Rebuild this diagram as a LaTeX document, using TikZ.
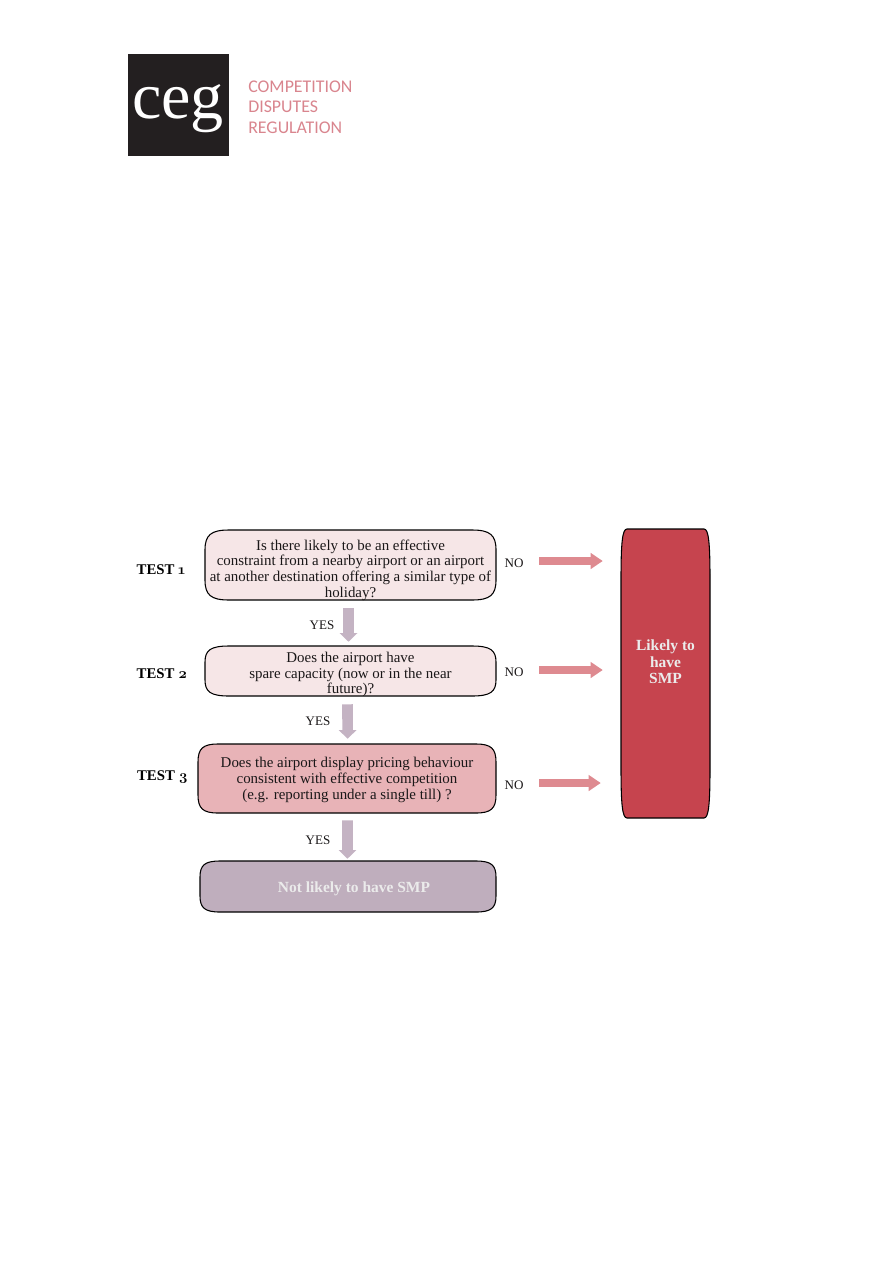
\documentclass[tikz,border=0pt]{standalone}
\usepackage{fontspec}
\setmainfont{Liberation Serif}
\newfontfamily\lmold[Numbers=OldStyle]{Latin Modern Roman}
\newfontfamily\logosans{Carlito}
\usetikzlibrary{arrows.meta}
\definecolor{inkc}{HTML}{1A1718}
\definecolor{logoblack}{HTML}{231F20}
\definecolor{logopink}{HTML}{D9858E}
\definecolor{lightpink}{HTML}{F6E6E7}
\definecolor{midpink}{HTML}{E8B3B7}
\definecolor{mauve}{HTML}{BFAEBD}
\definecolor{smpred}{HTML}{C6444E}
\definecolor{noarrowc}{HTML}{DE8A90}
\definecolor{yesarrowc}{HTML}{C4B3C3}
\newcommand{\sqbox}[7]{%
  \draw[boxline,fill=#7] (#1,#4-#6) -- (#1,#2+#6)
    .. controls (#1,#2+0.25*#6) and (#1+0.25*#5,#2) .. (#1+#5,#2)
    -- (#3-#5,#2)
    .. controls (#3-0.25*#5,#2) and (#3,#2+0.25*#6) .. (#3,#2+#6)
    -- (#3,#4-#6)
    .. controls (#3,#4-0.25*#6) and (#3-0.25*#5,#4) .. (#3-#5,#4)
    -- (#1+#5,#4)
    .. controls (#1+0.25*#5,#4) and (#1,#4-0.25*#6) .. (#1,#4-#6) -- cycle;}
\newcommand{\dn}[1]{\rule{0pt}{#1}}
\tikzset{
  x=0.75pt,y=-0.75pt,
  boxline/.style={draw=black,line width=0.8pt},
  boxtext/.style={inner sep=0pt,align=center,text=inkc,font=\fontsize{11.2}{11.8}\selectfont},
  whitetext/.style={inner sep=0pt,align=center,text=white!92!black,font=\fontsize{11.6}{12.2}\selectfont\bfseries},
  testlabel/.style={inner sep=0pt,text=black,font=\fontsize{11.1}{12}\selectfont\bfseries},
  answer/.style={inner sep=0pt,text=inkc,font=\fontsize{9.8}{12}\selectfont},
  slogan/.style={inner sep=0pt,anchor=west,text=logopink,font=\logosans\fontsize{13.4}{15}\selectfont},
  yesarrow/.style={draw=yesarrowc,line width=8pt,-{Triangle[length=6.5pt,width=13pt]}},
  noarrow/.style={draw=noarrowc,line width=6pt,-{Triangle[length=9pt,width=11.5pt]}},
}
\begin{document}
\begin{tikzpicture}
\useasboundingbox (0,0) rectangle (893,1263);
% logo
\fill[logoblack] (128,54) rectangle (229,156);
\node[inner sep=0pt,anchor=base,text=white,font=\fontsize{49.6}{50}\selectfont] (ceg) at (178,118) {ceg};
\node[slogan] (s1) at (248,86.5) {COMPETITION};
\node[slogan] (s2) at (248,106.5) {DISPUTES};
\node[slogan] (s3) at (248,127.5) {REGULATION};
% boxes
\sqbox{205}{530}{496}{600}{24}{20}{lightpink}
\sqbox{205}{646}{496}{696}{24}{16}{lightpink}
\sqbox{198}{744}{496}{813}{20}{18}{midpink}
\sqbox{200}{861}{496}{912}{20}{16}{mauve}
\sqbox{621}{529}{710}{818}{6}{50}{smpred}
\node[boxtext,minimum width=218.25pt,minimum height=52.5pt] (t1) at (350.5,565)
  {\dn{15.5pt}Is there likely to be an effective\\constraint from a nearby airport or an airport\\at another destination offering a similar type of\\holiday?};
\node[boxtext,minimum width=218.25pt,minimum height=37.5pt] (t2) at (350.5,671)
  {\dn{13pt}Does the airport have\\spare capacity (now or in the near\\future)?};
\node[boxtext,minimum width=223.5pt,minimum height=51.75pt] (t3) at (347,778.5)
  {\dn{10pt}Does the airport display pricing behaviour\\consistent with effective competition\\(e.g. reporting under a single till) ?};
\node[whitetext,minimum width=222pt,minimum height=38.25pt] (t4) at (348,886.5)
  {\hspace*{9pt}\dn{11.5pt}Not likely to have SMP};
\node[whitetext,minimum width=66.75pt,minimum height=216.75pt] (smp) at (665.5,660.5)
  {\dn{10pt}Likely to\\have\\SMP};
% labels
\node[testlabel] (l1) at (161,569.5) {TEST {\lmold 1}};
\node[testlabel] (l2) at (162,673.5) {TEST {\lmold 2}};
\node[testlabel] (l3) at (162.5,777.5) {TEST {\lmold 3}};
\node[answer] (y1) at (322,625) {YES};
\node[answer] (y2) at (318,721) {YES};
\node[answer] (y3) at (318,840) {YES};
\node[answer] (n1) at (514,563) {NO};
\node[answer] (n2) at (514,672) {NO};
\node[answer] (n3) at (514,785) {NO};
% YES arrows
\draw[yesarrow,shorten <=5.25pt,shorten >=2.25pt] ([xshift=-1.5pt]t1.south) -- ([xshift=-1.5pt]t2.north);
\draw[yesarrow,shorten <=5.25pt,shorten >=3.75pt] ([xshift=-2.25pt]t2.south) -- ([xshift=0.5pt]t3.north);
\draw[yesarrow,shorten <=5.25pt,shorten >=1.5pt] ([xshift=0.4pt]t3.south) -- ([xshift=-0.4pt]t4.north);
% NO arrows
\coordinate (a1) at (539,561);
\coordinate (a2) at (539,670);
\coordinate (a3) at (539,783);
\draw[noarrow,shorten >=13.5pt] (a1) -- (a1 -| smp.west);
\draw[noarrow,shorten >=13.5pt] (a2) -- (a2 -| smp.west);
\draw[noarrow,shorten >=15pt] (a3) -- (a3 -| smp.west);
\end{tikzpicture}
\end{document}
